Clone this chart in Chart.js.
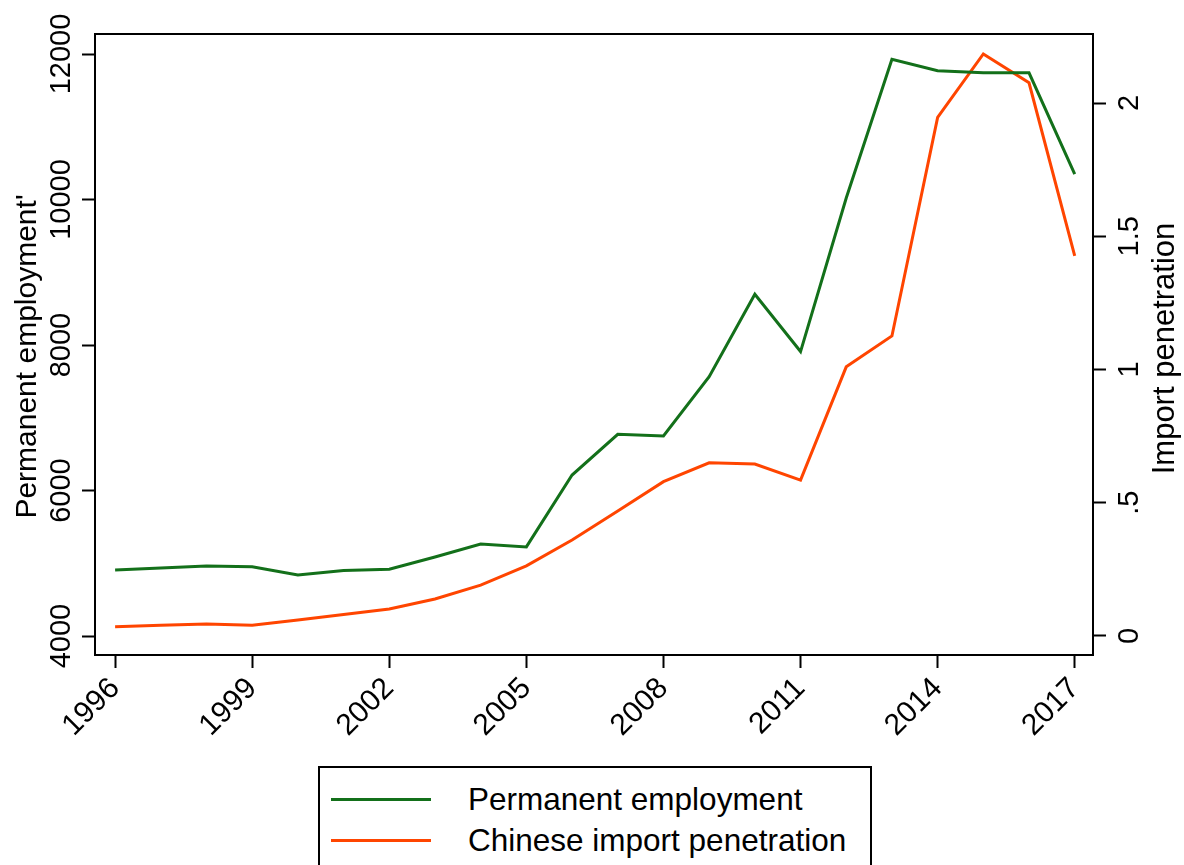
<!DOCTYPE html>
<html>
<head>
<meta charset="utf-8">
<script src="https://cdn.jsdelivr.net/npm/chart.js@4"></script>
<style>
  body { margin: 0; background: #fff; }
  #wrap { position: relative; width: 1184px; height: 865px; overflow: hidden; }
  #legend {
    position: absolute; left: 318px; top: 766px; width: 554px; height: 130px;
    border: 2px solid #000; box-sizing: border-box; background: #fff;
    font-family: "Liberation Sans", Arial, sans-serif; font-size: 31.5px; color: #000;
  }
  .row { position: absolute; left: 0; height: 40px; width: 100%; }
  .row .swatch { position: absolute; left: 11px; width: 100px; height: 3px; top: 19px; }
  .row .txt { position: absolute; left: 148px; top: 2px; line-height: 36px; white-space: nowrap; }
</style>
</head>
<body>
<div id="wrap">
  <canvas id="chart" width="1184" height="865"></canvas>
  <div id="legend"></div>
</div>
<script>
// data
const years = [1996, 1997, 1998, 1999, 2000, 2001, 2002, 2003, 2004, 2005, 2006,
               2007, 2008, 2009, 2010, 2011, 2012, 2013, 2014, 2015, 2016, 2017];
const employment = [4907, 4935, 4962, 4953, 4838, 4900, 4917, 5086, 5265, 5225, 6213,
                    6772, 6749, 7564, 8697, 7910, 10020, 11927, 11770, 11742, 11742, 10350];
const importPen = [0.035, 0.040, 0.045, 0.040, 0.060, 0.081, 0.101, 0.139, 0.191, 0.263, 0.360,
                   0.469, 0.579, 0.650, 0.645, 0.585, 1.010, 1.126, 1.946, 2.184, 2.076, 1.426];

const yearTicks = [1996, 1999, 2002, 2005, 2008, 2011, 2014, 2017];
const empTicks = [4000, 6000, 8000, 10000, 12000];
const empTickLabels = ['4000', '6000', '8000', '10000', '12000'];
const penTicks = [0, 0.5, 1, 1.5, 2];
const penTickLabels = ['0', '.5', '1', '1.5', '2'];

const seriesNames = ['Permanent employment', 'Chinese import penetration'];
const seriesColors = ['#13701a', '#ff4500'];

const FONT = '"Liberation Sans", Arial, sans-serif';

function drawUp(ctx, text, x, y) {
  ctx.save();
  ctx.translate(x, y);
  ctx.rotate(-Math.PI / 2);
  ctx.fillText(text, 0, 0);
  ctx.restore();
}

// frame box, rotated y tick labels and y titles (Stata style)
const stataBits = {
  id: 'stataBits',
  afterDraw(chart) {
    const { ctx, chartArea: a, scales } = chart;
    ctx.save();
    ctx.strokeStyle = '#000';
    ctx.lineWidth = 2;
    ctx.strokeRect(a.left, a.top, a.right - a.left, a.bottom - a.top);

    ctx.fillStyle = '#000';
    ctx.textAlign = 'center';
    ctx.textBaseline = 'middle';
    ctx.font = '29px ' + FONT;
    scales.y.ticks.forEach((t, i) => drawUp(ctx, empTickLabels[i], 62, scales.y.getPixelForValue(t.value)));
    scales.y1.ticks.forEach((t, i) => drawUp(ctx, penTickLabels[i], 1130, scales.y1.getPixelForValue(t.value)));

    const midY = (a.top + a.bottom) / 2;
    ctx.font = '30px ' + FONT;
    drawUp(ctx, "Permanent employment'", 28, midY + 12);
    ctx.font = '31px ' + FONT;
    drawUp(ctx, 'Import penetration', 1165, midY + 4);
    ctx.restore();
  }
};

const axisLine = { display: true, color: '#000', width: 2 };
const tickMarks = { drawOnChartArea: false, drawTicks: true, tickLength: 13, color: '#000', tickWidth: 2 };

new Chart(document.getElementById('chart'), {
  type: 'line',
  data: {
    datasets: [
      {
        label: seriesNames[0],
        data: years.map((yr, i) => ({ x: yr, y: employment[i] })),
        borderColor: seriesColors[0],
        backgroundColor: seriesColors[0],
        borderWidth: 3,
        pointRadius: 0,
        tension: 0,
        yAxisID: 'y'
      },
      {
        label: seriesNames[1],
        data: years.map((yr, i) => ({ x: yr, y: importPen[i] })),
        borderColor: seriesColors[1],
        backgroundColor: seriesColors[1],
        borderWidth: 3,
        pointRadius: 0,
        tension: 0,
        yAxisID: 'y1'
      }
    ]
  },
  options: {
    responsive: false,
    animation: false,
    layout: { padding: { top: 34, bottom: 110, left: 0, right: 0 } },
    plugins: { legend: { display: false }, tooltip: { enabled: false } },
    scales: {
      x: {
        type: 'linear',
        min: 1995.56,
        max: 2017.4,
        border: axisLine,
        grid: tickMarks,
        afterBuildTicks: s => { s.ticks = yearTicks.map(v => ({ value: v })); },
        afterFit: s => { s.height = 100; },
        ticks: {
          minRotation: 45,
          maxRotation: 45,
          padding: 3,
          color: '#000',
          font: { family: FONT, size: 30 },
          callback: v => String(v)
        }
      },
      y: {
        position: 'left',
        min: 3739,
        max: 12275,
        border: axisLine,
        grid: tickMarks,
        afterBuildTicks: s => { s.ticks = empTicks.map(v => ({ value: v })); },
        afterFit: s => { s.width = 95; },
        ticks: { display: false }
      },
      y1: {
        position: 'right',
        min: -0.0713,
        max: 2.259,
        border: axisLine,
        grid: tickMarks,
        afterBuildTicks: s => { s.ticks = penTicks.map(v => ({ value: v })); },
        afterFit: s => { s.width = 91; },
        ticks: { display: false }
      }
    }
  },
  plugins: [stataBits]
});

// boxed legend below the plot
const legend = document.getElementById('legend');
seriesNames.forEach((name, i) => {
  const row = document.createElement('div');
  row.className = 'row';
  row.style.top = (11 + i * 41) + 'px';
  row.innerHTML = '<div class="swatch" style="background:' + seriesColors[i] + '"></div>' +
                  '<div class="txt">' + name + '</div>';
  legend.appendChild(row);
});
</script>
</body>
</html>
